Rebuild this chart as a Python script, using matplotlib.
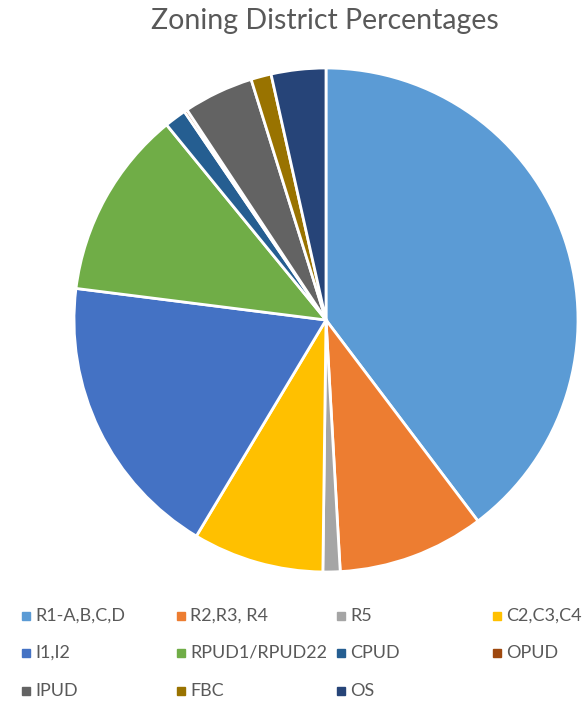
import matplotlib.pyplot as plt
from matplotlib.patches import Rectangle

# zoning share (percent)
labels = ["R1-A,B,C,D", "R2,R3, R4", "R5", "C2,C3,C4", "I1,I2",
          "RPUD1/RPUD22", "CPUD", "OPUD", "IPUD", "FBC", "OS"]
values = [39.7, 9.4, 1.1, 8.4, 18.4, 12.1, 1.4, 0.2, 4.5, 1.3, 3.5]
colors = ["#5B9BD5", "#ED7D31", "#A5A5A5", "#FFC000", "#4472C4", "#70AD47",
          "#255E91", "#9E480E", "#636363", "#997300", "#264478"]

plt.rcParams['font.family'] = ['Lato', 'DejaVu Sans']

W, H = 582, 701
fig = plt.figure(figsize=(W / 100, H / 100), dpi=100)

# pie
cx, cy, r = 326, 320, 252
ax = fig.add_axes([(cx - r) / W, (H - cy - r) / H, 2 * r / W, 2 * r / H])
ax.pie(values, colors=colors, startangle=90, counterclock=False,
       wedgeprops=dict(edgecolor="white", linewidth=2))
ax.set_xlim(-1, 1)
ax.set_ylim(-1, 1)
ax.set_aspect("equal")
ax.axis("off")

fig.text(325 / W, 1 - 21 / H, "Zoning District Percentages", ha="center", va="center",
         fontsize=20.5, color="#595959")

# legend, laid out like the Excel one (4 columns)
lax = fig.add_axes([0, 0, 1, 1])
lax.set_xlim(0, W)
lax.set_ylim(H, 0)
lax.axis("off")
col_x = [22, 177, 337, 493]
row_y = [616, 653, 691]
for i, (lab, c) in enumerate(zip(labels, colors)):
    x = col_x[i % 4]
    y = row_y[i // 4]
    lax.add_patch(Rectangle((x, y - 4), 8, 8, color=c))
    lax.text(x + 13, y, lab, va="center", ha="left", fontsize=13, color="#595959")

fig.savefig("out.png", dpi=100)
